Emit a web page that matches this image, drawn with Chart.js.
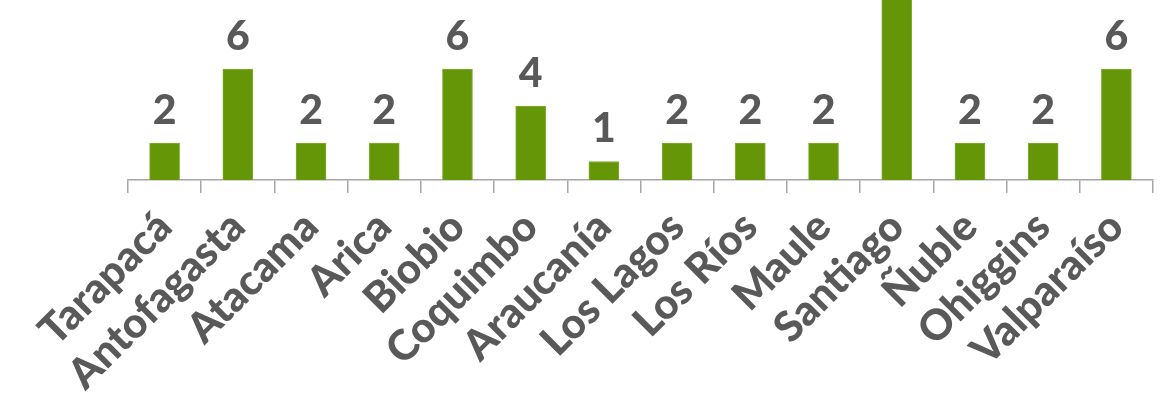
<!DOCTYPE html>
<html>
<head>
<meta charset="utf-8">
<script src="https://cdn.jsdelivr.net/npm/chart.js@4"></script>
<style>
  html, body { margin: 0; padding: 0; background: #fff; }
  #wrap { width: 1166px; height: 404px; }
</style>
</head>
<body>
<div id="wrap"><canvas id="regiones"></canvas></div>
<script>
// regions and counts
const regiones = ["Tarapacá", "Antofagasta", "Atacama", "Arica", "Biobio", "Coquimbo", "Araucanía",
                  "Los Lagos", "Los Ríos", "Maule", "Santiago", "Ñuble", "Ohiggins", "Valparaíso"];
const cantidad = [2, 6, 2, 2, 6, 4, 1, 2, 2, 2, 12, 2, 2, 6];   // Santiago runs off the top, value guessed

const gris = "#595959";
const verde = "#649608";

// draws the number over each bar (no datalabels plugin available)
const etiquetas = {
    id: "etiquetas",
    afterDatasetsDraw(chart) {
        const ctx = chart.ctx;
        const meta = chart.getDatasetMeta(0);
        ctx.save();
        ctx.font = "900 41px Lato";
        ctx.fillStyle = gris;
        ctx.textAlign = "center";
        ctx.textBaseline = "bottom";
        meta.data.forEach((bar, i) => {
            if (bar.y < chart.chartArea.top) return;
            ctx.fillText(cantidad[i], bar.x, bar.y - 12);
        });
        ctx.restore();
    }
};

new Chart("regiones", {
    type: "bar",
    data: {
        labels: regiones,
        datasets: [{
            data: cantidad,
            backgroundColor: verde,
            borderColor: "#7fae2e",
            borderWidth: 1,
            barThickness: 30
        }]
    },
    options: {
        responsive: true,
        maintainAspectRatio: false,
        animation: false,
        layout: { padding: { left: 128, right: 13, top: 0, bottom: 0 } },
        plugins: {
            legend: { display: false },
            tooltip: { enabled: false }
        },
        scales: {
            x: {
                offset: true,
                grid: {
                    offset: true,
                    drawOnChartArea: false,
                    tickLength: 13,
                    color: "#a6a6a6",
                    lineWidth: 1.5
                },
                border: { color: "#a6a6a6", width: 1.5 },
                ticks: {
                    autoSkip: false,
                    maxRotation: 45,
                    minRotation: 45,
                    padding: 9,
                    color: gris,
                    font: { family: "Lato", weight: "900", size: 42 }
                },
                afterFit(scale) { scale.height = 224; }
            },
            y: {
                display: false,
                min: 0,
                max: 9.73
            }
        }
    },
    plugins: [etiquetas]
});
</script>
</body>
</html>
